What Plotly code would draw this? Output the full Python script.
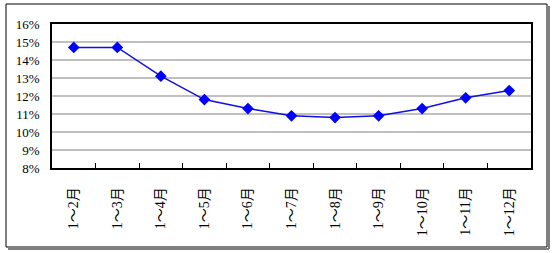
import plotly.graph_objects as go

categories = ["1～2月", "1～3月", "1～4月", "1～5月", "1～6月", "1～7月",
              "1～8月", "1～9月", "1～10月", "1～11月", "1～12月"]
values = [14.7, 14.7, 13.1, 11.8, 11.3, 10.9, 10.8, 10.9, 11.3, 11.9, 12.3]
y_ticks = [8, 9, 10, 11, 12, 13, 14, 15, 16]
y_tick_labels = [f"{v}%" for v in y_ticks]

W, H = 554, 253
L, R, T, B = 52, 23, 24, 85
pw, ph = W - L - R, H - T - B

def px_x(x):
    return (x - L) / pw

def px_y(y):
    return (H - B - y) / ph

font_family = "Liberation Serif, 'Noto Sans CJK SC', serif"

fig = go.Figure()
fig.add_trace(go.Scatter(
    x=categories, y=values, mode="lines+markers",
    line=dict(color="#1010e0", width=1.5),
    marker=dict(symbol="diamond", size=9, color="#0000ff"),
    showlegend=False, cliponaxis=False,
))

shapes = [
    # shadow
    dict(type="line", xref="paper", yref="paper",
         x0=px_x(549), x1=px_x(549), y0=px_y(6), y1=px_y(249),
         line=dict(color="#808080", width=2)),
    dict(type="line", xref="paper", yref="paper",
         x0=px_x(8), x1=px_x(549), y0=px_y(249), y1=px_y(249),
         line=dict(color="#808080", width=2)),
    # outer frame
    dict(type="rect", xref="paper", yref="paper",
         x0=px_x(6), x1=px_x(547), y0=px_y(4), y1=px_y(247),
         line=dict(color="#000000", width=1), fillcolor="rgba(0,0,0,0)"),
]

fig.update_layout(
    width=W, height=H,
    margin=dict(l=L, r=R, t=T, b=B, pad=0, autoexpand=False),
    paper_bgcolor="white", plot_bgcolor="white",
    font=dict(family=font_family, size=12, color="#000000"),
    shapes=shapes,
)
fig.update_xaxes(
    type="category", range=[-0.5, len(categories) - 0.5],
    tickson="boundaries", ticks="inside", ticklen=5,
    tickcolor="#000000", tickwidth=1, tickangle=-90,
    showline=True, linecolor="#000000", linewidth=1.5, mirror=True,
    showgrid=False, ticklabelstandoff=12, automargin=False,
    tickfont=dict(family=font_family, size=14),
)
fig.update_yaxes(
    range=[8, 16], tickvals=y_ticks, ticktext=y_tick_labels,
    showline=True, linecolor="#000000", linewidth=1.5, mirror=True,
    showgrid=True, gridcolor="#c0c0c0", gridwidth=1.5, automargin=False,
    ticks="", ticklabelstandoff=8, zeroline=False,
    tickfont=dict(family=font_family, size=13),
)

fig.write_html("out.html")
